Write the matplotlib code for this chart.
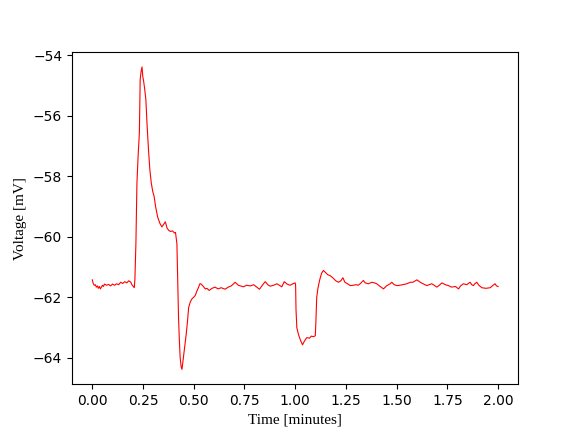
import matplotlib
matplotlib.use("Agg")
import matplotlib.pyplot as plt

# membrane voltage trace
time_min = [
    0.000, 0.005, 0.010, 0.015, 0.020, 0.025, 0.030, 0.035, 0.040, 0.045,
    0.050, 0.055, 0.060, 0.070, 0.080, 0.090, 0.100, 0.110, 0.120, 0.130,
    0.140, 0.150, 0.160, 0.170, 0.180, 0.190, 0.195, 0.200, 0.207, 0.210,
    0.215, 0.220, 0.226, 0.232, 0.236, 0.240, 0.245, 0.249, 0.253, 0.258,
    0.264, 0.270, 0.277, 0.284, 0.291, 0.298, 0.305, 0.312, 0.322, 0.333,
    0.343, 0.352, 0.360, 0.368, 0.376, 0.385, 0.395, 0.405, 0.410, 0.417,
    0.421, 0.425, 0.429, 0.433, 0.438, 0.442, 0.447, 0.453, 0.458, 0.463,
    0.469, 0.475, 0.483, 0.491, 0.499, 0.507, 0.515, 0.524, 0.530, 0.535,
    0.545, 0.557, 0.565, 0.576, 0.590, 0.605, 0.620, 0.635, 0.655, 0.670,
    0.685, 0.704, 0.720, 0.745, 0.760, 0.780, 0.795, 0.810, 0.824, 0.838,
    0.852, 0.865, 0.877, 0.893, 0.910, 0.922, 0.934, 0.946, 0.960, 0.975,
    0.988, 1.000, 1.002, 1.004, 1.008, 1.015, 1.025, 1.036, 1.045, 1.057,
    1.070, 1.080, 1.090, 1.099, 1.102, 1.106, 1.112, 1.120, 1.130, 1.139,
    1.150, 1.160, 1.172, 1.185, 1.200, 1.213, 1.225, 1.235, 1.245, 1.258,
    1.271, 1.285, 1.300, 1.310, 1.320, 1.336, 1.345, 1.360, 1.378, 1.390,
    1.402, 1.415, 1.435, 1.450, 1.468, 1.476, 1.488, 1.501, 1.515, 1.530,
    1.550, 1.567, 1.580, 1.600, 1.612, 1.624, 1.636, 1.649, 1.660, 1.673,
    1.685, 1.698, 1.710, 1.723, 1.740, 1.755, 1.770, 1.790, 1.805, 1.815,
    1.829, 1.845, 1.862, 1.870, 1.878, 1.885, 1.895, 1.905, 1.920, 1.940,
    1.961, 1.975, 1.985, 1.992, 2.000,
]
voltage_mv = [
    -61.42, -61.55, -61.60, -61.58, -61.66, -61.62, -61.70, -61.64, -61.72, -61.66,
    -61.60, -61.64, -61.56, -61.60, -61.57, -61.62, -61.56, -61.60, -61.55, -61.58,
    -61.50, -61.54, -61.48, -61.52, -61.45, -61.50, -61.58, -61.62, -61.68, -61.40,
    -60.20, -58.23, -57.30, -56.57, -54.80, -54.55, -54.38, -54.70, -54.85, -55.10,
    -55.46, -56.30, -57.12, -57.80, -58.23, -58.50, -58.67, -59.00, -59.34, -59.55,
    -59.67, -59.58, -59.50, -59.70, -59.78, -59.82, -59.80, -59.87, -59.85, -60.22,
    -61.40, -62.66, -63.40, -63.99, -64.30, -64.38, -64.10, -63.77, -63.50, -63.21,
    -62.80, -62.33, -62.15, -62.05, -62.00, -61.94, -61.80, -61.66, -61.55, -61.55,
    -61.62, -61.72, -61.70, -61.77, -61.70, -61.66, -61.72, -61.68, -61.73, -61.66,
    -61.62, -61.50, -61.60, -61.65, -61.60, -61.62, -61.58, -61.66, -61.73, -61.60,
    -61.48, -61.58, -61.63, -61.60, -61.55, -61.60, -61.65, -61.48, -61.56, -61.60,
    -61.55, -61.52, -61.60, -62.40, -63.00, -63.20, -63.40, -63.57, -63.45, -63.33,
    -63.35, -63.28, -63.30, -63.27, -62.80, -62.00, -61.70, -61.44, -61.20, -61.11,
    -61.18, -61.25, -61.28, -61.35, -61.45, -61.50, -61.45, -61.35, -61.50, -61.55,
    -61.61, -61.60, -61.58, -61.60, -61.55, -61.44, -61.52, -61.55, -61.50, -61.52,
    -61.55, -61.62, -61.72, -61.62, -61.55, -61.50, -61.58, -61.61, -61.60, -61.58,
    -61.55, -61.50, -61.50, -61.42, -61.48, -61.53, -61.57, -61.61, -61.58, -61.55,
    -61.60, -61.66, -61.60, -61.52, -61.58, -61.61, -61.66, -61.64, -61.72, -61.62,
    -61.55, -61.58, -61.50, -61.58, -61.61, -61.55, -61.50, -61.60, -61.68, -61.70,
    -61.68, -61.60, -61.55, -61.62, -61.64,
]

fig, ax = plt.subplots(figsize=(5.76, 4.32), dpi=100)
ax.plot(time_min, voltage_mv, color="red", linewidth=0.8)
ax.set_xlabel("Time [minutes]", family="Liberation Serif", fontsize=11)
ax.set_ylabel("Voltage [mV]", family="Liberation Serif", fontsize=11)
fig.savefig("out.png")
